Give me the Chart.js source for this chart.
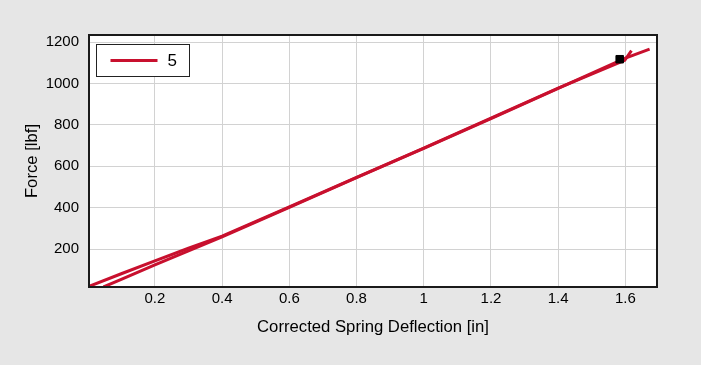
<!DOCTYPE html>
<html>
<head>
<meta charset="utf-8">
<script src="https://cdn.jsdelivr.net/npm/chart.js@4.4.1/dist/chart.umd.min.js"></script>
<style>
  html, body { margin:0; padding:0; background:#e6e6e6; }
  canvas { display:block; }
</style>
</head>
<body>
<canvas id="chart" width="701" height="365"></canvas>
<script>
// series "5" - two branches of the same test plus the marked point
const seriesLabel = "5";
const branchAX = [0.047, 0.1, 0.2, 0.3, 0.4, 0.6, 0.8, 1.0, 1.2, 1.4, 1.6, 1.672];
const branchAY = [17, 54, 124, 191, 259, 402, 545, 686, 830, 976, 1122, 1166];
const branchBX = [0.004, 0.1, 0.2, 0.3, 0.4, 0.6, 0.8, 1.0, 1.2, 1.4, 1.598, 1.618];
const branchBY = [20, 81, 143, 204, 263, 404, 547, 688, 832, 978, 1112, 1159];
const markX = [1.583];
const markY = [1117];

// axes
const xTicks = [0.2, 0.4, 0.6, 0.8, 1, 1.2, 1.4, 1.6];
const yTicks = [200, 400, 600, 800, 1000, 1200];
const xRange = [0.004, 1.694];
const yRange = [17, 1234];
const xTitle = "Corrected Spring Deflection [in]";
const yTitle = "Force [lbf]";

const red = "#c8102e";
const font = "'Liberation Sans', Arial, sans-serif";

const pts = (xs, ys) => xs.map((x, i) => ({ x: x, y: ys[i] }));

// grey page + white plot area
const backdrop = {
  id: "backdrop",
  beforeDraw(chart) {
    const { ctx, chartArea: a } = chart;
    ctx.save();
    ctx.fillStyle = "#e6e6e6";
    ctx.fillRect(0, 0, chart.width, chart.height);
    ctx.fillStyle = "#ffffff";
    ctx.fillRect(a.left, a.top, a.right - a.left, a.bottom - a.top);
    ctx.restore();
  }
};

// frame and legend box inside the plot
const frameLegend = {
  id: "frameLegend",
  afterDatasetsDraw(chart) {
    const { ctx, chartArea: a } = chart;
    ctx.save();
    ctx.strokeStyle = "#1a1a1a";
    ctx.lineWidth = 2;
    ctx.strokeRect(a.left, a.top, a.right - a.left, a.bottom - a.top);

    const bx = a.left + 7.5, by = a.top + 9.5, bw = 93, bh = 32;
    ctx.fillStyle = "#ffffff";
    ctx.fillRect(bx, by, bw, bh);
    ctx.strokeStyle = "#222";
    ctx.lineWidth = 1;
    ctx.strokeRect(bx, by, bw, bh);
    ctx.strokeStyle = red;
    ctx.lineWidth = 3;
    ctx.beginPath();
    ctx.moveTo(bx + 14, by + bh / 2);
    ctx.lineTo(bx + 61, by + bh / 2);
    ctx.stroke();
    ctx.fillStyle = "#000";
    ctx.font = "17px " + font;
    ctx.textBaseline = "middle";
    ctx.fillText(chart.data.datasets[1].label, bx + 71, by + bh / 2 + 1);
    ctx.restore();
  }
};

new Chart(document.getElementById("chart"), {
  type: "scatter",
  data: {
    datasets: [
      { label: "mark", order: 0, data: pts(markX, markY), pointStyle: "rect", pointRadius: 5.3, backgroundColor: "#000", borderColor: "#000", borderWidth: 1 },
      { label: seriesLabel, order: 1, data: pts(branchAX, branchAY), showLine: true, borderColor: red, borderWidth: 3, pointRadius: 0, tension: 0 },
      { label: seriesLabel, order: 2, data: pts(branchBX, branchBY), showLine: true, borderColor: red, borderWidth: 3, pointRadius: 0, tension: 0 }
    ]
  },
  options: {
    responsive: false,
    animation: false,
    layout: { padding: { left: 0, right: 44, top: 35, bottom: 0 } },
    plugins: { legend: { display: false }, tooltip: { enabled: false } },
    scales: {
      x: {
        type: "linear", min: xRange[0], max: xRange[1],
        afterBuildTicks: s => { s.ticks = xTicks.map(v => ({ value: v })); },
        afterFit: s => { s.height = 78; },
        grid: { color: "#d2d2d2", lineWidth: 1, drawTicks: false },
        border: { display: false },
        ticks: { color: "#000", font: { family: font, size: 15 }, padding: 3, maxRotation: 0, callback: v => String(v) },
        title: { display: true, text: xTitle, color: "#000", font: { family: font, size: 16.7 }, padding: { bottom: 28 } }
      },
      y: {
        type: "linear", min: yRange[0], max: yRange[1],
        afterBuildTicks: s => { s.ticks = yTicks.map(v => ({ value: v })); },
        afterFit: s => { s.width = 89; },
        grid: { color: "#d2d2d2", lineWidth: 1, drawTicks: false },
        border: { display: false },
        ticks: { color: "#000", font: { family: font, size: 15 }, padding: 10, callback: v => String(v) },
        title: { display: true, text: yTitle, color: "#000", font: { family: font, size: 16.7 }, padding: { top: 22 } }
      }
    }
  },
  plugins: [backdrop, frameLegend]
});
</script>
</body>
</html>
